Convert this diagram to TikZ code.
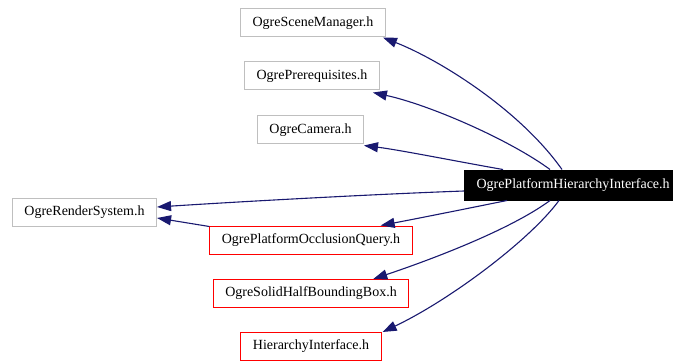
\documentclass[tikz,border=0pt]{standalone}
\usepackage{fontspec}
\setmainfont{Liberation Serif}
\usetikzlibrary{arrows.meta}
\definecolor{edgeblue}{HTML}{191970}
\definecolor{boxgray}{HTML}{BFBFBF}
\begin{document}
\begin{tikzpicture}[x=1pt,y=-1pt,
    file/.style={draw=boxgray,line width=1pt,fill=white,inner xsep=12pt,inner ysep=0pt,minimum height=28pt,font=\fontsize{14}{16}\selectfont},
    redfile/.style={file,draw=red},
    mainfile/.style={file,draw=black,fill=black,text=white,minimum height=30pt},
    dep/.style={draw=edgeblue,line width=1.1pt,-{Triangle[length=14pt,width=10pt]}}]
  \useasboundingbox[fill=white] (0,0) rectangle (673,361);
  \node[file] (scenemgr) at (313,23) {OgreSceneManager.h};
  \node[file] (prereq) at (312,76) {OgrePrerequisites.h};
  \node[file] (camera) at (310.5,130) {OgreCamera.h};
  \node[mainfile,anchor=west] (phi) at (464,185) {OgrePlatformHierarchyInterface.h};
  \node[file] (rendersys) at (84.5,212) {OgreRenderSystem.h};
  \node[redfile] (occquery) at (311,240) {OgrePlatformOcclusionQuery.h};
  \node[redfile] (solidbox) at (311,293.5) {OgreSolidHalfBoundingBox.h};
  \node[redfile] (hierif) at (311,346.5) {HierarchyInterface.h};
  \draw[dep] ([xshift=98pt]phi.north west) .. controls (520,110) and (440,60) .. ([xshift=-3pt]scenemgr.south east);
  \draw[dep] ([xshift=86pt]phi.north west) .. controls (510,140) and (430,105) .. ([xshift=-7pt,yshift=-2pt]prereq.south east);
  \draw[dep] ([xshift=39pt]phi.north west) .. controls (460,162) and (400,150) .. ([yshift=-1pt]camera.south east);
  \draw[dep] ([yshift=-6pt]phi.west) .. controls (380,194) and (250,201) .. ([yshift=5pt]rendersys.east);
  \draw[dep] ([xshift=43pt]phi.south west) .. controls (460,210) and (420,218) .. ([xshift=-32pt]occquery.north east);
  \draw[dep] ([xshift=86pt]phi.south west) .. controls (510,230) and (430,260) .. ([xshift=-36pt]solidbox.north east);
  \draw[dep] ([xshift=95pt]phi.south west) .. controls (530,240) and (450,300) .. ([xshift=1pt]hierif.north east);
  \draw[dep] ([yshift=-1pt]occquery.north west) -- ([yshift=-6pt]rendersys.east);
\end{tikzpicture}
\end{document}
